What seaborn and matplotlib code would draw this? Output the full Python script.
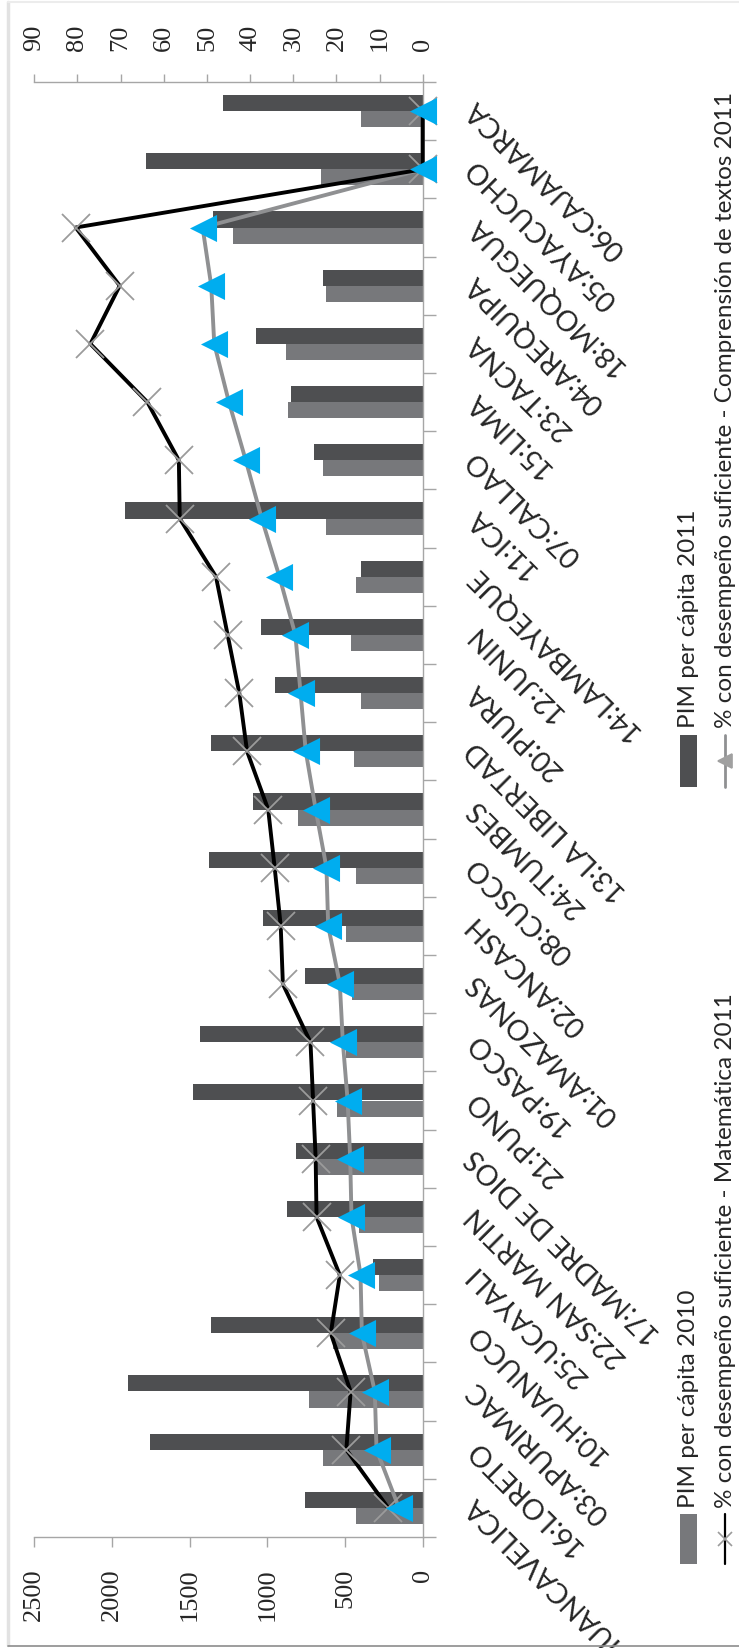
import numpy as np
import pandas as pd
import matplotlib
matplotlib.use("Agg")
import matplotlib.pyplot as plt
from matplotlib.lines import Line2D
from matplotlib.patches import Rectangle
from matplotlib.transforms import ScaledTranslation
import seaborn as sns

# Regions in chart order (first = nearest the bottom of the page)
regiones = ["09:HUANCAVELICA", "16:LORETO", "03:APURIMAC", "10:HUANUCO", "25:UCAYALI",
            "22:SAN MARTIN", "17:MADRE DE DIOS", "21:PUNO", "19:PASCO", "01:AMAZONAS",
            "02:ANCASH", "08:CUSCO", "24:TUMBES", "13:LA LIBERTAD", "20:PIURA",
            "12:JUNIN", "14:LAMBAYEQUE", "11:ICA", "07:CALLAO", "15:LIMA",
            "23:TACNA", "04:AREQUIPA", "18:MOQUEGUA", "05:AYACUCHO", "06:CAJAMARCA"]

pim_2010 = [427, 641, 731, 577, 281, 410, 680, 551, 491, 452,
            495, 431, 802, 442, 394, 463, 431, 620, 641, 867,
            882, 620, 1221, 656, 394]
pim_2011 = [755, 1757, 1894, 1364, 320, 871, 817, 1478, 1435, 755,
            1028, 1377, 1092, 1364, 948, 1038, 395, 1916, 699, 845,
            1070, 641, 1349, 1782, 1285]
mat_2011 = [8.0, 17.7, 16.7, 21.3, 19.2, 24.6, 24.8, 25.4, 26.0, 32.4,
            32.9, 34.3, 35.8, 40.7, 42.5, 45.2, 47.9, 56.3, 56.5, 63.8,
            77.0, 70.2, 80.4, 0.0, 0.0]
com_2011 = [5.5, 10.7, 11.1, 14.1, 14.4, 16.5, 16.8, 17.4, 18.5, 19.2,
            21.9, 22.3, 24.8, 27.1, 28.3, 29.5, 33.2, 37.3, 41.0, 44.9,
            48.3, 49.0, 51.0, 0.0, 0.0]

pim_ticks = [0, 500, 1000, 1500, 2000, 2500]
pct_ticks = [0, 10, 20, 30, 40, 50, 60, 70, 80, 90]

lbl_2010 = "PIM per cápita 2010"
lbl_2011 = "PIM per cápita 2011"
lbl_mat = "% con desempeño suficiente - Matemática 2011"
lbl_com = "% con desempeño suficiente - Comprensión de textos 2011"

c_dark = "#4e4f51"
c_gray = "#77787b"
c_line_gray = "#8f9092"
c_blue = "#00adef"
c_axis = "#a6a6a6"

sns.set_style("white")
plt.rcParams["font.family"] = ["Lato", "DejaVu Sans"]

W, H = 739, 1649
fig = plt.figure(figsize=(W / 100, H / 100), dpi=100)


def fx(px):
    return px / W


def fy(py):
    return 1 - py / H


# plot area (page laid out sideways: values grow to the left)
x0, x1 = 34.3, 422.7
y0, y1 = 83.0, 1538.0
ax = fig.add_axes([fx(x0), fy(y1), fx(x1) - fx(x0), fy(y0) - fy(y1)])

orden = regiones[::-1]
pos = {r: i for i, r in enumerate(orden)}
ypos = [pos[r] for r in regiones]

df = pd.DataFrame({
    "region": regiones * 2,
    "serie": [lbl_2010] * len(regiones) + [lbl_2011] * len(regiones),
    "valor": pim_2010 + pim_2011,
})
df["pos"] = df["region"].map(pos)

sns.barplot(data=df, x="valor", y="pos", hue="serie",
            hue_order=[lbl_2011, lbl_2010], palette=[c_dark, c_gray],
            orient="y", native_scale=True, width=0.55, dodge=True,
            saturation=1, errorbar=None, linewidth=0, legend=False, ax=ax)

ax2 = ax.twiny()
# reading-comprehension line underneath, maths line above, triangles on top
sns.lineplot(x=com_2011, y=ypos, sort=False, estimator=None, orient="y",
             color=c_line_gray, linewidth=2.8, clip_on=False, zorder=2,
             legend=False, ax=ax2)
sns.lineplot(x=mat_2011, y=ypos, sort=False, estimator=None, orient="y",
             color="black", linewidth=2.8, marker="x", markersize=20,
             markeredgecolor="#9b9b9b", markeredgewidth=1.3,
             clip_on=False, zorder=3, legend=False, ax=ax2)
sns.scatterplot(x=com_2011, y=ypos, marker="<", s=19.5 ** 2, color=c_blue,
                linewidth=0, clip_on=False, zorder=4, legend=False, ax=ax2)

ax.set_xlim(2500, 0)
ax2.set_xlim(90, 0)
ax.set_ylim(len(regiones) - 0.5, -0.5)
ax.set_xlabel("")
ax.set_ylabel("")
ax2.set_xlabel("")
ax2.set_ylabel("")

# spines
for s in ["left", "top"]:
    ax.spines[s].set_visible(False)
for s in ["right", "bottom"]:
    ax.spines[s].set_color(c_axis)
    ax.spines[s].set_linewidth(1.0)
for s in ["left", "right", "bottom"]:
    ax2.spines[s].set_visible(False)
ax2.spines["top"].set_color(c_axis)
ax2.spines["top"].set_linewidth(1.0)

num_font = dict(family="Liberation Serif", size=19)

# PIM value axis (bottom of page)
ax.set_xticks(pim_ticks)
ax.set_xticklabels([str(v) for v in pim_ticks], rotation=90, fontdict=num_font)
ax.tick_params(axis="x", direction="out", length=7, width=1, color=c_axis,
               pad=15, bottom=True)

# percentage axis (top of page)
ax2.set_xticks(pct_ticks)
ax2.set_xticklabels([str(v) for v in pct_ticks], rotation=90, fontdict=num_font)
ax2.tick_params(axis="x", direction="out", length=6, width=1, color=c_axis,
                pad=17, top=True)

# region axis: boundary ticks, slanted names ending next to the axis
ax.yaxis.set_ticks_position("right")
ax.set_yticks([])
ax.set_yticks(np.arange(-0.5, len(orden), 1), minor=True)
ax.tick_params(axis="y", which="minor", length=9, width=1, color=c_axis,
               direction="out", right=True, left=False)
name_tr = ax.get_yaxis_transform() + ScaledTranslation(0.48, 0.07, fig.dpi_scale_trans)
for r in orden:
    ax.text(1.0, pos[r], r, transform=name_tr, rotation=135,
            rotation_mode="anchor", ha="right", va="center", fontsize=20.5,
            clip_on=False)

# legend, written along the page
leg_fs = 17.5


def legend_rect(xa, ya, xb, yb, color):
    fig.add_artist(Rectangle((fx(xa), fy(yb)), fx(xb) - fx(xa), fy(ya) - fy(yb),
                             transform=fig.transFigure, facecolor=color, lw=0))


def legend_line(xc, ya, yb, color, lw, marker, mcolor, ms, mfc="none"):
    fig.add_artist(Line2D([fx(xc), fx(xc)], [fy(ya), fy(yb)], color=color, lw=lw,
                          transform=fig.transFigure))
    fig.add_artist(Line2D([fx(xc)], [fy((ya + yb) / 2)], marker=marker, ms=ms,
                          mec=mcolor, mfc=mfc, mew=1.2, lw=0,
                          transform=fig.transFigure))


legend_rect(680, 1515, 697, 1565, c_gray)
fig.text(fx(688.5), fy(1508), lbl_2010, rotation=90, ha="center", va="bottom",
         fontsize=leg_fs)
legend_line(725, 1515, 1565, "black", 1.6, "x", "#9b9b9b", 10)
fig.text(fx(725), fy(1508), lbl_mat, rotation=90, ha="center", va="bottom",
         fontsize=leg_fs)

legend_rect(680, 736, 697, 788, c_dark)
fig.text(fx(688.5), fy(728), lbl_2011, rotation=90, ha="center", va="bottom",
         fontsize=leg_fs)
legend_line(725, 736, 788, c_line_gray, 2.0, "<", "#a0a0a0", 10, mfc="#a0a0a0")
fig.text(fx(725), fy(728), lbl_com, rotation=90, ha="center", va="bottom",
         fontsize=leg_fs)

# chart frame
fig.add_artist(Line2D([fx(8), fx(8)], [fy(3), fy(1646)], color="#e2e2e2", lw=2.5,
                      transform=fig.transFigure))
fig.add_artist(Line2D([fx(8), 1], [fy(3), fy(3)], color="#ececec", lw=1.5,
                      transform=fig.transFigure))
fig.add_artist(Line2D([fx(8), 1], [fy(1646.5), fy(1646.5)], color="#8c8c8c", lw=1.2,
                      transform=fig.transFigure))

fig.savefig("out.png", dpi=100, facecolor="white")
